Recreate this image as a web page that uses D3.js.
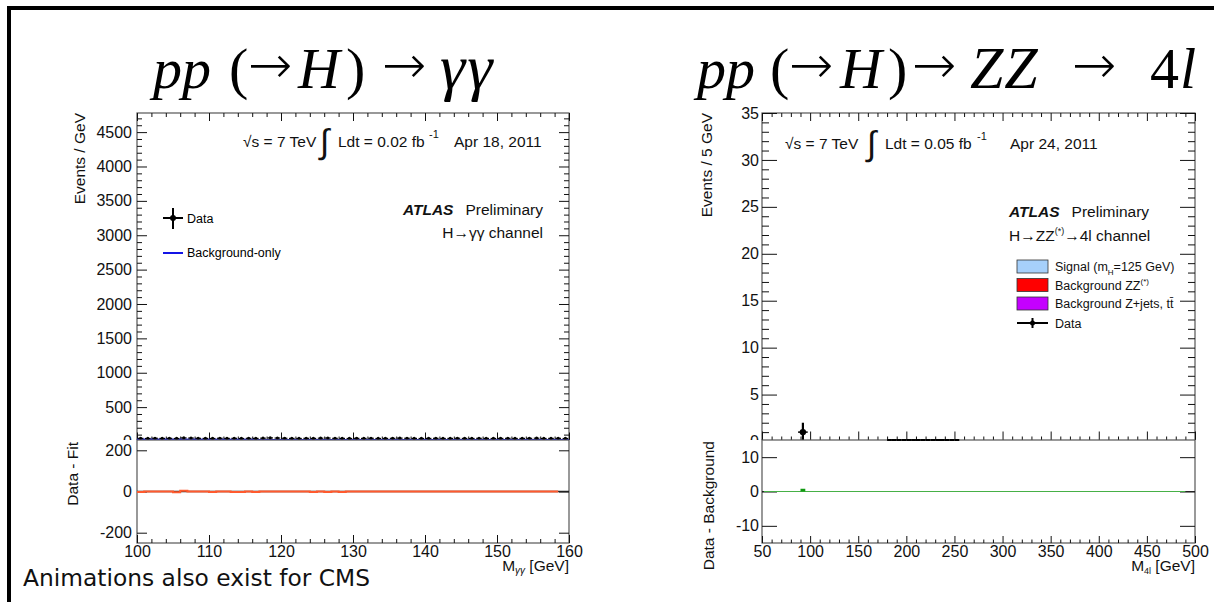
<!DOCTYPE html>
<html><head><meta charset="utf-8">
<script src="https://cdn.jsdelivr.net/npm/d3@7"></script>
<style>
body{margin:0;background:#fff;}
svg{display:block;font-family:"Liberation Sans",Arial,Helvetica,sans-serif;}
</style>
</head><body>
<svg id="c" width="1214" height="602"></svg>
<script>
// ---------------- DATA ----------------
// H -> gamma gamma (left)
const ggBinLow = [100,101,102,103,104,105,106,107,108,109,110,111,112,113,114,115,116,117,118,119,
  120,121,122,123,124,125,126,127,128,129,130,131,132,133,134,135,136,137,138,139,
  140,141,142,143,144,145,146,147,148,149,150,151,152,153,154,155,156,157,158,159];
const ggData = [46,44,47,45,46,44,52,50,46,45, 44,47,45,46,44,46,45,48,52,50,
  47,45,44,46,45,48,50,46,45,44, 46,45,47,44,45,46,49,47,45,44,
  45,46,44,45,47,45,44,46,45,44, 45,46,44,45,46,48,44,45,46,44];
const ggResidual = [-3,0,0,0,0,-4,4,0,0,0, -3,0,0,-3,-3,0,-3,0,0,0,
  0,0,0,0,-3,0,-3,0,-3,0, 0,0,0,0,0,0,0,0,0,0,
  0,0,0,0,0,0,0,0,0,0, 0,0,0,0,0,0,0,0,0,0];
const ggFitMass = [100,160];
const ggFitValue = [26,24];
const ggXTicks = [100,110,120,130,140,150,160];
const ggYTicks = [0,500,1000,1500,2000,2500,3000,3500,4000,4500];
const ggRTicks = [-200,0,200];

// H -> ZZ -> 4l (right)
const zzDataMass = [92.5,182.5,187.5,192.5,197.5,202.5,207.5,212.5,217.5,222.5,227.5,232.5,237.5,242.5,247.5,252.5];
const zzDataCount = [1,0,0,0,0,0,0,0,0,0,0,0,0,0,0,0];
const zzDataXErr = [5,2.5,2.5,2.5,2.5,2.5,2.5,2.5,2.5,2.5,2.5,2.5,2.5,2.5,2.5,2.5];
const zzDataYErr = [1,0,0,0,0,0,0,0,0,0,0,0,0,0,0,0];
const zzDiffLow = [90];
const zzDiffValue = [0.8];
const zzXTicks = [50,100,150,200,250,300,350,400,450,500];
const zzYTicks = [0,5,10,15,20,25,30,35];
const zzRTicks = [-10,0,10];
const zzLegendColors = ["#a6d0fb", "#ff0000", "#c400ff", "#000"];

// ---------------- DRAW ----------------
const svg = d3.select("#c");
const B = 440; // pad boundary
const fmt = d => String(d);

svg.append("path").attr("d","M9,602 V8 H1214").attr("fill","none")
  .attr("stroke","#000").attr("stroke-width",4);

// titles: [text, x, italic, isArrow, fontSize, letterSpacing]
function title(parts, y) {
  parts.forEach(p => {
    const t = svg.append("text").attr("x", p[1]).attr("fill","#000");
    if (p[3]) {
      t.attr("y", y - 5).style("font-family","'DejaVu Sans',sans-serif").style("font-size","53px")
       .style("font-weight","300");
    } else {
      t.attr("y", y).style("font-family","'Liberation Serif','Times New Roman',serif")
       .style("font-size", (p[4] || 58) + "px").style("font-style", p[2] ? "italic" : "normal");
    }
    if (p[5]) t.style("letter-spacing", p[5] + "px");
    t.text(p[0]);
  });
}
title([["pp",153,1],["(",229,0],["\u2192",248,0,1],["H",298,1],[")",346,0],
       ["\u2192",382,0,1],["\u03b3\u03b3",440,1,0,64,2]], 88);
title([["pp",697,1],["(",770,0],["\u2192",789,0,1],["H",840,1],[")",888,0],
       ["\u2192",912,0,1],["ZZ",970,1,0,60,1],["\u2192",1072,0,1],["4",1150,0],["l",1180,1]], 88);

function ticks(g, axisFn, scale, vals, size, transform, labels, pad, fs) {
  const a = axisFn(scale).tickValues(vals).tickSize(size).tickPadding(pad || 4);
  a.tickFormat(labels ? fmt : "");
  const gg = g.append("g").attr("transform", transform).call(a);
  gg.select(".domain").remove();
  gg.selectAll("line").attr("stroke","#111").attr("stroke-width",1);
  gg.selectAll("text").attr("fill","#111").style("font-size",(fs||16)+"px")
    .style("font-family","'Liberation Sans',Arial,sans-serif");
  return gg;
}
function range(a, b, s) { return d3.range(a, b + s/2, s); }

function frame(g, x0, x1, y0, y1) {
  g.append("rect").attr("x",x0).attr("y",y0).attr("width",x1-x0).attr("height",y1-y0)
    .attr("fill","none").attr("stroke","#555").attr("stroke-width",1.2);
}

// ======== LEFT: gamma gamma ========
{
  const x = d3.scaleLinear().domain([100,160]).range([137,569]);
  const yt = d3.scaleLinear().domain([0,4778]).range([441.5,113]);
  const yb = d3.scaleLinear().domain([-250,250]).range([543,B]);
  const g = svg.append("g");
  svg.append("clipPath").attr("id","clipL").append("rect").attr("x",137).attr("y",113).attr("width",432).attr("height",B-113);

  frame(g, 137, 569, 113, 441.5);
  const yMinor = range(0,4700,100).filter(v=>v%500);
  const xMinor = range(100,160,2).filter(v=>v%10);
  ticks(g, d3.axisLeft, yt, ggYTicks, -10, "translate(137,0)", true, 5);
  ticks(g, d3.axisLeft, yt, yMinor, -5, "translate(137,0)", false);
  ticks(g, d3.axisRight, yt, ggYTicks, -10, "translate(569,0)", false);
  ticks(g, d3.axisRight, yt, yMinor, -5, "translate(569,0)", false);
  ticks(g, d3.axisTop, x, ggXTicks, -8, "translate(0,113)", false);
  ticks(g, d3.axisTop, x, xMinor, -4, "translate(0,113)", false);
  ticks(g, d3.axisBottom, x, ggXTicks, -9, "translate(0,441.5)", false);
  ticks(g, d3.axisBottom, x, xMinor, -5, "translate(0,441.5)", false);

  const dg = g.append("g").attr("clip-path","url(#clipL)");
  dg.append("path").datum(ggFitMass.map((m,i)=>[m, ggFitValue[i]]))
    .attr("d", d3.line().x(d=>x(d[0])).y(d=>yt(d[1])))
    .attr("fill","none").attr("stroke","#1414e6").attr("stroke-width",2.2);
  const pts = dg.selectAll(".pt").data(ggBinLow.map((m,i)=>({m, v: ggData[i]}))).enter().append("g");
  pts.append("line").attr("x1",d=>x(d.m)+0.8).attr("x2",d=>x(d.m+1)-0.8)
    .attr("y1",d=>yt(d.v)).attr("y2",d=>yt(d.v)).attr("stroke","#000").attr("stroke-width",1.2);
  pts.append("line").attr("x1",d=>x(d.m+0.5)).attr("x2",d=>x(d.m+0.5))
    .attr("y1",d=>yt(d.v+Math.sqrt(d.v))).attr("y2",d=>yt(d.v-Math.sqrt(d.v))).attr("stroke","#000").attr("stroke-width",1.2);
  pts.append("circle").attr("cx",d=>x(d.m+0.5)).attr("cy",d=>yt(d.v)).attr("r",1.6).attr("fill","#000");

  g.append("line").attr("x1",163).attr("x2",183).attr("y1",218).attr("y2",218).attr("stroke","#000").attr("stroke-width",2);
  g.append("line").attr("x1",173).attr("x2",173).attr("y1",208).attr("y2",229).attr("stroke","#000").attr("stroke-width",2);
  g.append("circle").attr("cx",173).attr("cy",218).attr("r",3).attr("fill","#000");
  g.append("text").attr("x",187).attr("y",222.5).style("font-size","12.5px").text("Data");
  g.append("line").attr("x1",163).attr("x2",183).attr("y1",253).attr("y2",253).attr("stroke","#1414e6").attr("stroke-width",2);
  g.append("text").attr("x",187).attr("y",257).style("font-size","12.5px").text("Background-only");

  const lab = g.append("g").style("font-size","15.5px").attr("fill","#111");
  lab.append("text").attr("x",243).attr("y",147).text("\u221As = 7 TeV");
  lab.append("text").attr("x",320).attr("y",153).style("font-size","34px")
     .style("font-family","'DejaVu Sans',sans-serif").style("font-weight","200").text("\u222B");
  lab.append("text").attr("x",338).attr("y",147).text("Ldt = 0.02 fb");
  lab.append("text").attr("x",429).attr("y",138).style("font-size","11px").text("-1");
  lab.append("text").attr("x",454).attr("y",147).text("Apr 18, 2011");
  const at = lab.append("text").attr("x",543).attr("y",215).attr("text-anchor","end");
  at.append("tspan").style("font-weight","bold").style("font-style","italic").text("ATLAS");
  at.append("tspan").text("\u2002 Preliminary");
  lab.append("text").attr("x",543).attr("y",238).attr("text-anchor","end").text("H\u2192\u03b3\u03b3 channel");

  g.append("text").attr("transform","translate(85,113) rotate(-90)").attr("text-anchor","end")
    .style("font-size","15.5px").attr("fill","#111").text("Events / GeV");

  const b = svg.append("g");
  b.append("rect").attr("x",12).attr("y",B).attr("width",588).attr("height",162).attr("fill","#fff");
  frame(b, 137, 569, B, 543);
  ticks(b, d3.axisLeft, yb, ggRTicks, -10, "translate(137,0)", true, 5);
  ticks(b, d3.axisRight, yb, ggRTicks, -10, "translate(569,0)", false);
  ticks(b, d3.axisBottom, x, ggXTicks, -8, "translate(0,543)", true, 3);
  ticks(b, d3.axisBottom, x, xMinor, -4, "translate(0,543)", false);
  b.append("line").attr("x1",x(100)).attr("x2",x(160)).attr("y1",yb(0)).attr("y2",yb(0)).attr("stroke","#222").attr("stroke-width",1.5);
  const stepPts = ggBinLow.slice(0,59).map((m,i)=>[m, ggResidual[i]]);
  stepPts.push([158.5, 0]);
  b.append("path").datum(stepPts)
    .attr("d", d3.line().x(d=>x(d[0])).y(d=>yb(d[1])).curve(d3.curveStepAfter))
    .attr("fill","none").attr("stroke","#ff5a2e").attr("stroke-width",2);
  b.append("text").attr("transform","translate(78,442) rotate(-90)").attr("text-anchor","end")
    .style("font-size","15.5px").attr("fill","#111").text("Data - Fit");
  const xt = b.append("text").attr("x",569).attr("y",571).attr("text-anchor","end").style("font-size","15.5px").attr("fill","#111");
  xt.append("tspan").text("M");
  xt.append("tspan").attr("dy",3).style("font-size","10px").style("font-style","italic").text("\u03b3\u03b3");
  xt.append("tspan").attr("dy",-3).text(" [GeV]");
}

// ======== RIGHT: ZZ -> 4l ========
{
  const x = d3.scaleLinear().domain([50,500]).range([762,1195]);
  const yt = d3.scaleLinear().domain([0,35]).range([441.5,113]);
  const yb = d3.scaleLinear().domain([-15,15]).range([543,B]);
  const g = svg.append("g");
  svg.append("clipPath").attr("id","clipR").append("rect").attr("x",762).attr("y",113).attr("width",433).attr("height",B-113);

  frame(g, 762, 1195, 113, 441.5);
  const yMinor = range(0,35,1).filter(v=>v%5);
  const xMinor = range(50,500,10).filter(v=>v%50);
  ticks(g, d3.axisLeft, yt, zzYTicks, -15, "translate(762,0)", true, 3);
  ticks(g, d3.axisLeft, yt, yMinor, -7, "translate(762,0)", false);
  ticks(g, d3.axisRight, yt, zzYTicks, -15, "translate(1195,0)", false);
  ticks(g, d3.axisRight, yt, yMinor, -7, "translate(1195,0)", false);
  ticks(g, d3.axisTop, x, zzXTicks, -8, "translate(0,113)", false);
  ticks(g, d3.axisTop, x, xMinor, -4, "translate(0,113)", false);
  ticks(g, d3.axisBottom, x, zzXTicks, -10, "translate(0,441.5)", false);
  ticks(g, d3.axisBottom, x, xMinor, -5, "translate(0,441.5)", false);

  const lab = g.append("g").style("font-size","15.5px").attr("fill","#111");
  lab.append("text").attr("x",785).attr("y",149).text("\u221As = 7 TeV");
  lab.append("text").attr("x",867).attr("y",155).style("font-size","34px")
     .style("font-family","'DejaVu Sans',sans-serif").style("font-weight","200").text("\u222B");
  lab.append("text").attr("x",885).attr("y",149).text("Ldt = 0.05 fb");
  lab.append("text").attr("x",977).attr("y",140).style("font-size","11px").text("-1");
  lab.append("text").attr("x",1010).attr("y",149).text("Apr 24, 2011");
  const at = lab.append("text").attr("x",1009).attr("y",217);
  at.append("tspan").style("font-weight","bold").style("font-style","italic").text("ATLAS");
  at.append("tspan").text("\u2002 Preliminary");
  const ch = lab.append("text").attr("x",1009).attr("y",241);
  ch.append("tspan").text("H\u2192ZZ");
  ch.append("tspan").attr("dy",-7).style("font-size","9px").text("(*)");
  ch.append("tspan").attr("dy",7).text("\u21924l channel");

  const lg = g.append("g");
  const rowsY = [266.5, 285, 303.5, 323];
  [0,1,2].forEach(i => {
    lg.append("rect").attr("x",1017).attr("y",rowsY[i]-6.5).attr("width",31).attr("height",13)
      .attr("fill",zzLegendColors[i]).attr("stroke","#333").attr("stroke-width",0.8);
  });
  lg.append("line").attr("x1",1017).attr("x2",1048).attr("y1",rowsY[3]).attr("y2",rowsY[3]).attr("stroke","#000").attr("stroke-width",2);
  lg.append("line").attr("x1",1032.5).attr("x2",1032.5).attr("y1",rowsY[3]-5).attr("y2",rowsY[3]+5).attr("stroke","#000").attr("stroke-width",2);
  lg.append("circle").attr("cx",1032.5).attr("cy",rowsY[3]).attr("r",2.5).attr("fill","#000");
  const lt = lg.append("g").style("font-size","12.5px").attr("fill","#111");
  const t0 = lt.append("text").attr("x",1055).attr("y",rowsY[0]+4.5);
  t0.append("tspan").text("Signal (m");
  t0.append("tspan").attr("dy",4).style("font-size","8px").text("H");
  t0.append("tspan").attr("dy",-4).text("=125 GeV)");
  const t1 = lt.append("text").attr("x",1055).attr("y",rowsY[1]+4.5);
  t1.append("tspan").text("Background ZZ");
  t1.append("tspan").attr("dy",-6).style("font-size","8px").text("(*)");
  lt.append("text").attr("x",1055).attr("y",rowsY[2]+4.5).text("Background Z+jets, tt\u0304");
  lt.append("text").attr("x",1055).attr("y",rowsY[3]+4.5).text("Data");

  const dg = g.append("g").attr("clip-path","url(#clipR)");
  const pts = zzDataMass.map((m,i)=>({m, v: zzDataCount[i], xe: zzDataXErr[i], ye: zzDataYErr[i]}));
  const nz = dg.selectAll(".p").data(pts.filter(d=>d.v>0)).enter().append("g");
  nz.append("line").attr("x1",d=>x(d.m-d.xe)).attr("x2",d=>x(d.m+d.xe)).attr("y1",d=>yt(d.v)).attr("y2",d=>yt(d.v)).attr("stroke","#000").attr("stroke-width",1.5);
  nz.append("line").attr("x1",d=>x(d.m)).attr("x2",d=>x(d.m)).attr("y1",d=>yt(d.v+d.ye)).attr("y2",d=>yt(d.v-d.ye)).attr("stroke","#000").attr("stroke-width",2.2);
  nz.append("circle").attr("cx",d=>x(d.m)).attr("cy",d=>yt(d.v)).attr("r",3.2).attr("fill","#000");

  g.append("text").attr("transform","translate(712,113) rotate(-90)").attr("text-anchor","end")
    .style("font-size","15.5px").attr("fill","#111").text("Events / 5 GeV");

  const b = svg.append("g");
  b.append("rect").attr("x",640).attr("y",B).attr("width",574).attr("height",162).attr("fill","#fff");
  frame(b, 762, 1195, B, 543);
  ticks(b, d3.axisLeft, yb, zzRTicks, -15, "translate(762,0)", true, 3);
  ticks(b, d3.axisRight, yb, zzRTicks, -15, "translate(1195,0)", false);
  ticks(b, d3.axisBottom, x, zzXTicks, -7, "translate(0,543)", true, 3);
  ticks(b, d3.axisBottom, x, xMinor, -3.5, "translate(0,543)", false);
  b.append("line").attr("x1",x(50)).attr("x2",x(500)).attr("y1",yb(0)).attr("y2",yb(0)).attr("stroke","#222").attr("stroke-width",1);
  b.append("line").attr("x1",x(52)).attr("x2",x(490)).attr("y1",yb(0)).attr("y2",yb(0)).attr("stroke","#46b046").attr("stroke-width",1.2);
  b.selectAll(".d").data(zzDiffLow.map((m,i)=>({m, v: zzDiffValue[i]}))).enter().append("rect")
    .attr("x",d=>x(d.m)).attr("width",d=>x(d.m+5)-x(d.m)).attr("y",d=>yb(d.v)).attr("height",d=>yb(0)-yb(d.v))
    .attr("fill","#119911");
  b.selectAll(".z").data(pts.filter(d=>d.v===0)).enter().append("line")
    .attr("x1",d=>x(d.m-d.xe)).attr("x2",d=>x(d.m+d.xe)).attr("y1",B).attr("y2",B).attr("stroke","#000").attr("stroke-width",2);
  b.append("text").attr("transform","translate(714,441) rotate(-90)").attr("text-anchor","end")
    .style("font-size","15.5px").attr("fill","#111").text("Data - Background");
  const xt = b.append("text").attr("x",1195).attr("y",571).attr("text-anchor","end").style("font-size","15.5px").attr("fill","#111");
  xt.append("tspan").text("M");
  xt.append("tspan").attr("dy",3).style("font-size","9px").text("4l");
  xt.append("tspan").attr("dy",-3).text(" [GeV]");
}

svg.append("text").attr("x",23).attr("y",586).attr("textLength",347).attr("lengthAdjust","spacingAndGlyphs")
  .style("font-family","'DejaVu Sans',sans-serif").style("font-size","23px").attr("fill","#111")
  .text("Animations also exist for CMS");
</script>
</body></html>
